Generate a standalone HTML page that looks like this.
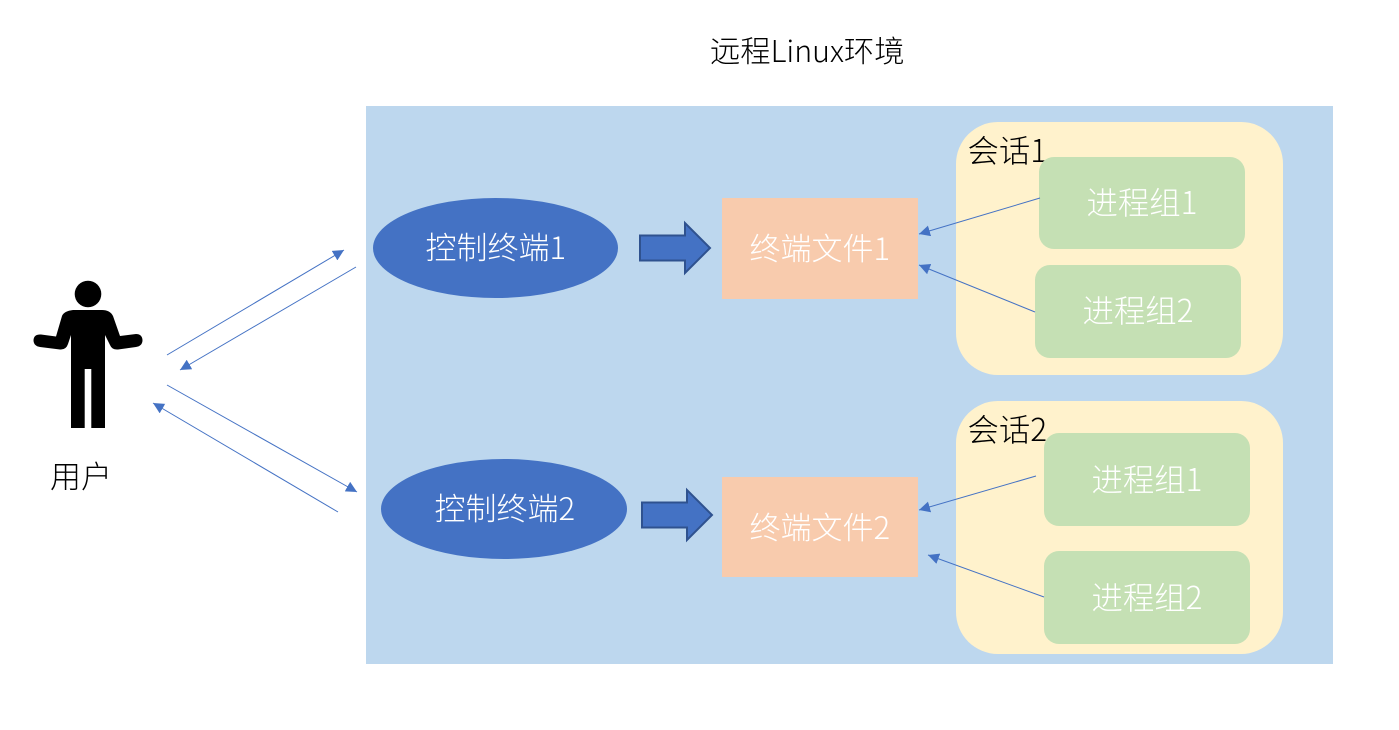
<!DOCTYPE html>
<html><head><meta charset="utf-8"><style>
html,body{margin:0;padding:0;background:#fff}
svg{display:block}
text{font-family:"Noto Sans CJK SC","Liberation Sans",sans-serif;font-size:31px;font-weight:300}
.s{font-size:31.400px}
.w{fill:#fff}.k{fill:#000}
</style></head><body>
<svg width="1399" height="730" viewBox="0 0 1399 730" xmlns="http://www.w3.org/2000/svg">
<defs>
<marker id="a" markerUnits="userSpaceOnUse" markerWidth="12" markerHeight="12" refX="11" refY="5.500" orient="auto"><path d="M0 0L11 5.500L0 11Z" fill="#4472c4"/></marker>
</defs>
<rect width="1399" height="730" fill="#fff"/>
<rect x="366" y="106" width="967" height="558" fill="#bdd7ee"/>
<rect x="956" y="122" width="327" height="253" rx="42" fill="#fff2cc"/>
<rect x="956" y="401" width="327" height="253" rx="42" fill="#fff2cc"/>
<text class="k s" x="967.500" y="162">会话1</text>
<text class="k s" x="967.500" y="441">会话2</text>
<rect x="1039" y="157" width="206" height="92" rx="15" fill="#c5e0b4"/>
<rect x="1035" y="265" width="206" height="93" rx="15" fill="#c5e0b4"/>
<rect x="1044" y="433" width="206" height="93" rx="15" fill="#c5e0b4"/>
<rect x="1044" y="551" width="206" height="93" rx="15" fill="#c5e0b4"/>
<rect x="722" y="198" width="196" height="101" fill="#f8cbad"/>
<rect x="722" y="477" width="196" height="100" fill="#f8cbad"/>
<ellipse cx="495.500" cy="248" rx="122.500" ry="50" fill="#4472c4"/>
<ellipse cx="504" cy="509" rx="123" ry="50" fill="#4472c4"/>
<path d="M640 235.500H685V223L710 248L685 273V260.500H640Z" fill="#4472c4" stroke="#2f528f" stroke-width="2"/>
<path d="M642 502.500H687V490L712 515L687 540V527.500H642Z" fill="#4472c4" stroke="#2f528f" stroke-width="2"/>
<g stroke="#4472c4" stroke-width="1" fill="none">
<line x1="167" y1="355" x2="344" y2="250" marker-end="url(#a)"/>
<line x1="356" y1="267" x2="180" y2="370" marker-end="url(#a)"/>
<line x1="167" y1="385" x2="357" y2="492" marker-end="url(#a)"/>
<line x1="338" y1="512" x2="153" y2="403" marker-end="url(#a)"/>
<line x1="1040" y1="198" x2="919" y2="234" marker-end="url(#a)"/>
<line x1="1035" y1="312" x2="919" y2="265" marker-end="url(#a)"/>
<line x1="1036" y1="476" x2="919" y2="510" marker-end="url(#a)"/>
<line x1="1044" y1="597" x2="928" y2="555" marker-end="url(#a)"/>
</g>
<g fill="#000">
<circle cx="88" cy="294" r="13.300"/>
<path d="M62 316Q64 311 73 310H102Q110 310 113 316L120 336L136 334Q142 334 142.500 340Q142.500 346 136 347L118 349.500Q112 350 110 345L105 335V428H91.300V369H84.700V428H71V335L68 344Q66 350 60 349.500L40 347Q33.500 346 33.500 340Q34 334 41 334.500L56 336.500Z"/>
</g>
<text class="k" x="710" y="62" style="font-size:30.300px">远程Linux环境</text>
<text class="k" x="50" y="488">用户</text>
<text class="w" x="425.500" y="259">控制终端1</text>
<text class="w" x="434.500" y="520">控制终端2</text>
<text class="w" x="749.500" y="260">终端文件1</text>
<text class="w" x="749.500" y="539">终端文件2</text>
<text class="w s" x="1086.500" y="214">进程组1</text>
<text class="w s" x="1082.500" y="322">进程组2</text>
<text class="w s" x="1091.500" y="491">进程组1</text>
<text class="w s" x="1091.500" y="609">进程组2</text>
</svg>
</body></html>
